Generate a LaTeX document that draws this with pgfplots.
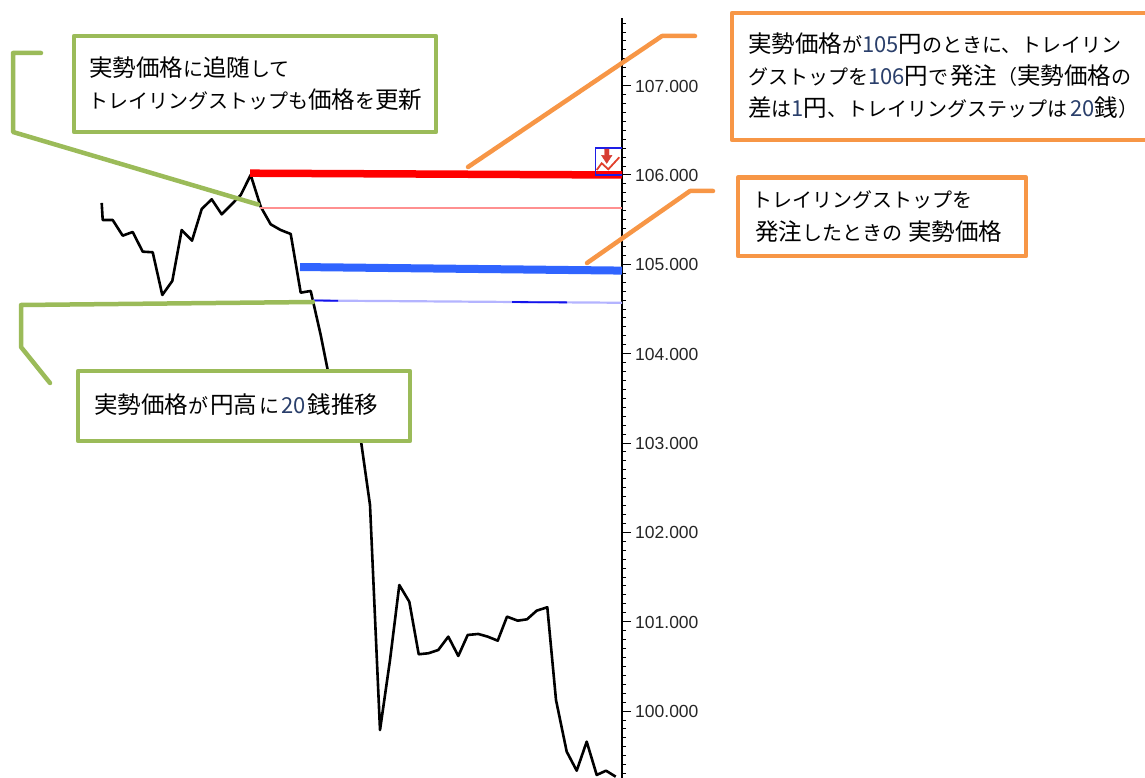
\documentclass[border=0pt]{standalone}
\usepackage{fontspec}
\usepackage{pgfplots}
\pgfplotsset{compat=1.18}
\setmainfont{Liberation Sans}
\newfontfamily\jp{Noto Sans CJK JP}
\definecolor{cgreen}{HTML}{9BBB59}
\definecolor{corange}{HTML}{F79646}
\definecolor{cnum}{HTML}{2A3F6B}
\definecolor{cpink}{HTML}{FF9090}
\definecolor{cblue}{HTML}{3064FF}
\definecolor{cpale}{HTML}{B4B4FF}
\definecolor{cdark}{HTML}{1414EB}
\definecolor{cbox}{HTML}{1E1EE6}
\definecolor{cicon}{HTML}{E1412D}
\definecolor{carrow}{HTML}{D73C32}
\newcommand{\num}[1]{{\fontsize{22}{26}\selectfont\color{cnum}#1}}
\newcommand{\K}[1]{{\fontsize{23.5}{26}\selectfont #1}}
\newcommand{\jt}{\jp\fontsize{20}{26}\selectfont}
\begin{document}
\begin{tikzpicture}[x=1pt,y=-1pt]
\path[use as bounding box] (0,0) rectangle (1145,778);
\clip (0,0) rectangle (1145,778);
\begin{axis}[
  at={(0pt,-778pt)}, anchor=south west,
  scale only axis, width=622pt, height=760pt,
  xmin=0, xmax=622, ymin=99.251, ymax=107.757,
  clip=false,
  axis x line=none, axis y line=right,
  axis line style={-, line width=1.6pt, black},
  ytick={100,101,102,103,104,105,106,107},
  minor ytick={99.3,99.4,...,107.75},
  tick align=outside,
  major tick length=9pt, minor tick length=4pt,
  tick style={black, line width=1pt},
  /pgf/number format/assume math mode=true,
  /pgf/number format/fixed, /pgf/number format/fixed zerofill, /pgf/number format/precision=3,
  /pgf/number format/1000 sep={},
  yticklabel style={font=\fontsize{17.5}{20}\selectfont, color=black!85, anchor=west, inner sep=0pt, xshift=4pt, yshift=-0.4pt},
]
% black price
\addplot[black, line width=2.6pt, line join=round, no marks] coordinates {
(101.7,105.687)(102.7,105.496)(112.7,105.496)(122.7,105.321)(132.7,105.362)(142.7,105.142)(152.7,105.135)
(162.3,104.657)(172.3,104.814)(181.7,105.384)(192,105.265)(201.7,105.619)(211.7,105.728)(221.7,105.560)
(231.7,105.672)(240.7,105.776)(250.7,106.0)(260.7,105.645)(270.7,105.448)(280.7,105.384)(290.7,105.340)
(300.7,104.683)(310.7,104.702)(320.7,104.209)(330.7,103.650)(340.7,103.448)(350.7,103.247)(360.7,103.045)
(370,102.307)(380,99.788)(390,100.57)(399.3,101.411)(409.3,101.224)(418.7,100.636)(428.3,100.647)
(438.3,100.684)(448.3,100.833)(458.3,100.617)(467.7,100.852)(478.3,100.863)(487.7,100.833)(497.7,100.788)
(507,101.057)(517.7,101.012)(527,101.027)(536.7,101.124)(547.3,101.162)(556,100.124)(566.7,99.546)
(576.7,99.333)(586.7,99.658)(596.7,99.285)(606,99.333)(615.7,99.266)};
% red
\addplot[cpink, line width=2pt, no marks] coordinates {(260,105.635)(622,105.635)};
\addplot[red, line width=7.5pt, no marks] coordinates {(250,106.02)(622,106.0)};
% blue
\addplot[cblue, line width=8pt, no marks] coordinates {(300,104.97)(622,104.93)};
\addplot[cpale, line width=2.2pt, no marks] coordinates {(313,104.595)(622,104.57)};
\addplot[cdark, line width=1.8pt, no marks] coordinates {(313,104.595)(338,104.593)};
\addplot[cdark, line width=1.8pt, no marks] coordinates {(512,104.578)(567,104.574)};
% icon
\addplot[cbox, line width=1.3pt, no marks] coordinates {(622,106.302)(595.5,106.302)(595.5,106.0)(622,106.0)};
\addplot[cicon, line width=1.8pt, no marks] coordinates {(596.7,106.056)(601.7,106.131)(608.3,106.064)(619.3,106.198)};
\addplot[carrow, fill=carrow, no marks] coordinates {(604.5,106.29)(609,106.29)(609,106.22)(612,106.22)(606.7,106.13)(601.5,106.22)(604.5,106.22)} -- cycle;
\end{axis}
% callouts
\begin{scope}[line width=4.5pt, line join=round, line cap=round]
\draw[cgreen] (41,53)--(13,53)--(13,132)--(258,204.5);
\draw[cgreen, fill=white] (74,36) rectangle (436,132);
\draw[cgreen] (313,302)--(21,305)--(21,347)--(50,383);
\draw[cgreen, fill=white] (78,371) rectangle (410,441);
\draw[corange] (468,167)--(662,36)--(695,36);
\draw[corange, fill=white] (732,13) rectangle (1160,140);
\draw[corange] (587,263)--(690,191)--(713,191);
\draw[corange, fill=white] (738,177.5) rectangle (1026,256);
\end{scope}
\begin{scope}[every node/.style={anchor=west, inner sep=0pt}, font=\jt]
\node at (89,68) {\K{実勢価格}に\K{追随}して};
\node at (88,100) {トレイリングストップも\K{価格}を\K{更新}};
\node at (94,405) {\K{実勢価格}が\hspace{2pt}\K{円高}\hspace{2pt}に\hspace{2pt}\num{20}\hspace{2pt}\K{銭推移}};
\node at (748,44) {\K{実勢価格}が\num{105}\K{円}のときに、トレイリン};
\node at (748,76) {グストップを\num{106}\K{円}で\hspace{2pt}\K{発注}（\K{実勢価格}の};
\node at (748,108) {\K{差}は\num{1}\K{円}、トレイリングステップは\hspace{3pt}\num{20}\K{銭}）};
\node at (752,200) {トレイリングストップを};
\node at (755,232) {\K{発注}したときの\hspace{6pt}\K{実勢価格}};
\end{scope}
\end{tikzpicture}
\end{document}
